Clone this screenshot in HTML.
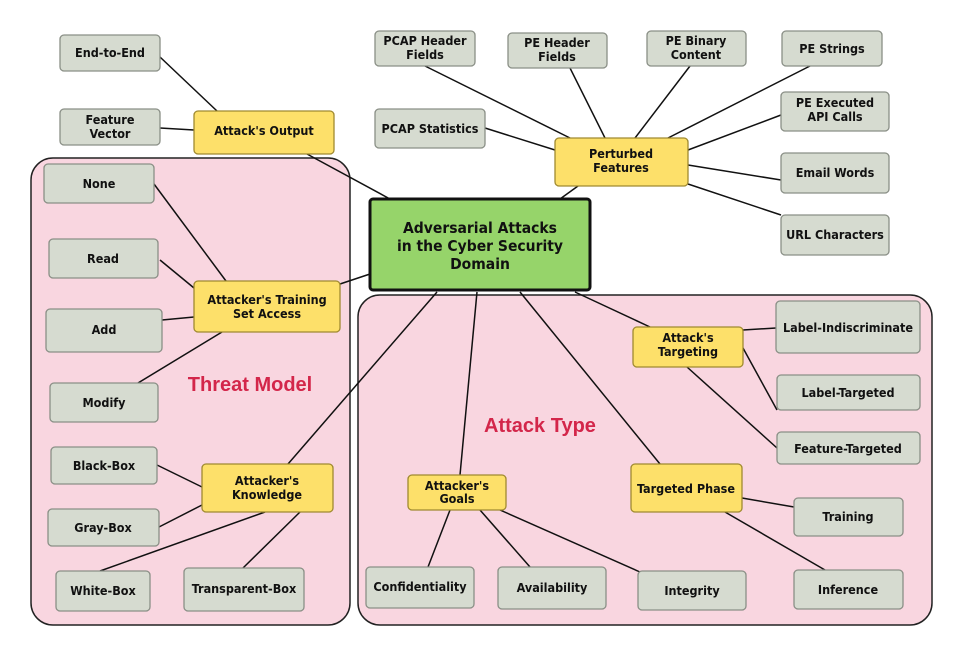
<!DOCTYPE html>
<html><head><meta charset="utf-8"><style>
html,body{margin:0;padding:0;background:#fff;}
svg{display:block;}
text{font-family:"DejaVu Sans Condensed","DejaVu Sans","Liberation Sans",sans-serif;font-weight:bold;font-size:12.5px;fill:#111;text-anchor:middle;}
.g{fill:#d6dbd0;stroke:#8a8f86;stroke-width:1.3;}
.y{fill:#fde06a;stroke:#a08a30;stroke-width:1.3;}
line{stroke:#111;stroke-width:1.5;}
</style></head><body>
<svg width="963" height="656" viewBox="0 0 963 656" xmlns="http://www.w3.org/2000/svg">
<rect x="0" y="0" width="963" height="656" fill="#fff"/>
<rect x="31" y="158" width="319" height="467" rx="22" fill="#f9d6e0" stroke="#222" stroke-width="1.5"/>
<rect x="358" y="295" width="574" height="330" rx="22" fill="#f9d6e0" stroke="#222" stroke-width="1.5"/>
<text x="250" y="391" style="font-family:'Liberation Sans',sans-serif;font-size:20px;fill:#d3264a">Threat Model</text>
<text x="540" y="432" style="font-family:'Liberation Sans',sans-serif;font-size:20px;fill:#d3264a">Attack Type</text>
<g>
<line x1="160" y1="57" x2="217" y2="111"/>
<line x1="160" y1="128" x2="194" y2="130"/>
<line x1="307" y1="154" x2="390" y2="199"/>
<line x1="340" y1="284" x2="370" y2="274"/>
<line x1="154" y1="184" x2="226" y2="281"/>
<line x1="160" y1="260" x2="194" y2="288"/>
<line x1="162" y1="320" x2="194" y2="317"/>
<line x1="138" y1="383" x2="222" y2="332"/>
<line x1="288" y1="464" x2="437" y2="292"/>
<line x1="157" y1="465" x2="202" y2="487"/>
<line x1="159" y1="527" x2="202" y2="505"/>
<line x1="100" y1="571" x2="265" y2="512"/>
<line x1="243" y1="568" x2="300" y2="512"/>
<line x1="460" y1="475" x2="477" y2="292"/>
<line x1="428" y1="567" x2="450" y2="510"/>
<line x1="530" y1="567" x2="480" y2="510"/>
<line x1="640" y1="572" x2="500" y2="510"/>
<line x1="660" y1="464" x2="520" y2="292"/>
<line x1="794" y1="507" x2="742" y2="498"/>
<line x1="825" y1="570" x2="725" y2="512"/>
<line x1="575" y1="292" x2="650" y2="327"/>
<line x1="743" y1="330" x2="776" y2="328"/>
<line x1="743" y1="348" x2="777" y2="410"/>
<line x1="687" y1="367" x2="777" y2="448"/>
<line x1="578" y1="186" x2="560" y2="199"/>
<line x1="425" y1="66" x2="570" y2="138"/>
<line x1="570" y1="68" x2="605" y2="138"/>
<line x1="690" y1="66" x2="635" y2="138"/>
<line x1="810" y1="66" x2="668" y2="138"/>
<line x1="485" y1="128" x2="555" y2="150"/>
<line x1="781" y1="115" x2="688" y2="150"/>
<line x1="781" y1="180" x2="688" y2="165"/>
<line x1="781" y1="215" x2="688" y2="184"/>
</g>
<rect x="370" y="199" width="220" height="91" rx="3" fill="#96d46a" stroke="#111" stroke-width="3"/>
<text x="480" y="233" style="font-size:15.5px">Adversarial Attacks</text>
<text x="480" y="251" style="font-size:15.5px">in the Cyber Security</text>
<text x="480" y="269" style="font-size:15.5px">Domain</text>

<rect class="g" x="60" y="35" width="100" height="36" rx="4"/><text x="110" y="57">End-to-End</text>
<rect class="g" x="60" y="109" width="100" height="36" rx="4"/><text x="110" y="124">Feature</text><text x="110" y="138">Vector</text>
<rect class="y" x="194" y="111" width="140" height="43" rx="4"/><text x="264" y="135">Attack's Output</text>
<rect class="g" x="44" y="164" width="110" height="39" rx="4"/><text x="99" y="188">None</text>
<rect class="g" x="49" y="239" width="109" height="39" rx="4"/><text x="103" y="263">Read</text>
<rect class="g" x="46" y="309" width="116" height="43" rx="4"/><text x="104" y="334">Add</text>
<rect class="g" x="50" y="383" width="108" height="39" rx="4"/><text x="104" y="407">Modify</text>
<rect class="y" x="194" y="281" width="146" height="51" rx="4"/><text x="267" y="304">Attacker's Training</text><text x="267" y="318">Set Access</text>
<rect class="g" x="51" y="447" width="106" height="37" rx="4"/><text x="104" y="470">Black-Box</text>
<rect class="g" x="48" y="509" width="111" height="37" rx="4"/><text x="103" y="532">Gray-Box</text>
<rect class="g" x="56" y="571" width="94" height="40" rx="4"/><text x="103" y="595">White-Box</text>
<rect class="g" x="184" y="568" width="120" height="43" rx="4"/><text x="244" y="593">Transparent-Box</text>
<rect class="y" x="202" y="464" width="131" height="48" rx="4"/><text x="267" y="485">Attacker's</text><text x="267" y="499">Knowledge</text>
<rect class="y" x="408" y="475" width="98" height="35" rx="4"/><text x="457" y="490">Attacker's</text><text x="457" y="503">Goals</text>
<rect class="g" x="366" y="567" width="108" height="41" rx="4"/><text x="420" y="591">Confidentiality</text>
<rect class="g" x="498" y="567" width="108" height="42" rx="4"/><text x="552" y="592">Availability</text>
<rect class="g" x="638" y="571" width="108" height="39" rx="4"/><text x="692" y="595">Integrity</text>
<rect class="y" x="631" y="464" width="111" height="48" rx="4"/><text x="686" y="493">Targeted Phase</text>
<rect class="g" x="794" y="498" width="109" height="38" rx="4"/><text x="848" y="521">Training</text>
<rect class="g" x="794" y="570" width="109" height="39" rx="4"/><text x="848" y="594">Inference</text>
<rect class="y" x="633" y="327" width="110" height="40" rx="4"/><text x="688" y="342">Attack's</text><text x="688" y="356">Targeting</text>
<rect class="g" x="776" y="301" width="144" height="52" rx="4"/><text x="848" y="332">Label-Indiscriminate</text>
<rect class="g" x="777" y="375" width="143" height="35" rx="4"/><text x="848" y="397">Label-Targeted</text>
<rect class="g" x="777" y="432" width="143" height="32" rx="4"/><text x="848" y="453">Feature-Targeted</text>
<rect class="y" x="555" y="138" width="133" height="48" rx="4"/><text x="621" y="158">Perturbed</text><text x="621" y="172">Features</text>
<rect class="g" x="375" y="31" width="100" height="35" rx="4"/><text x="425" y="45">PCAP Header</text><text x="425" y="59">Fields</text>
<rect class="g" x="508" y="33" width="99" height="35" rx="4"/><text x="557" y="47">PE Header</text><text x="557" y="61">Fields</text>
<rect class="g" x="647" y="31" width="99" height="35" rx="4"/><text x="696" y="45">PE Binary</text><text x="696" y="59">Content</text>
<rect class="g" x="782" y="31" width="100" height="35" rx="4"/><text x="832" y="53">PE Strings</text>
<rect class="g" x="375" y="109" width="110" height="39" rx="4"/><text x="430" y="133">PCAP Statistics</text>
<rect class="g" x="781" y="92" width="108" height="39" rx="4"/><text x="835" y="107">PE Executed</text><text x="835" y="121">API Calls</text>
<rect class="g" x="781" y="153" width="108" height="40" rx="4"/><text x="835" y="177">Email Words</text>
<rect class="g" x="781" y="215" width="108" height="40" rx="4"/><text x="835" y="239">URL Characters</text>
</svg>
</body></html>
